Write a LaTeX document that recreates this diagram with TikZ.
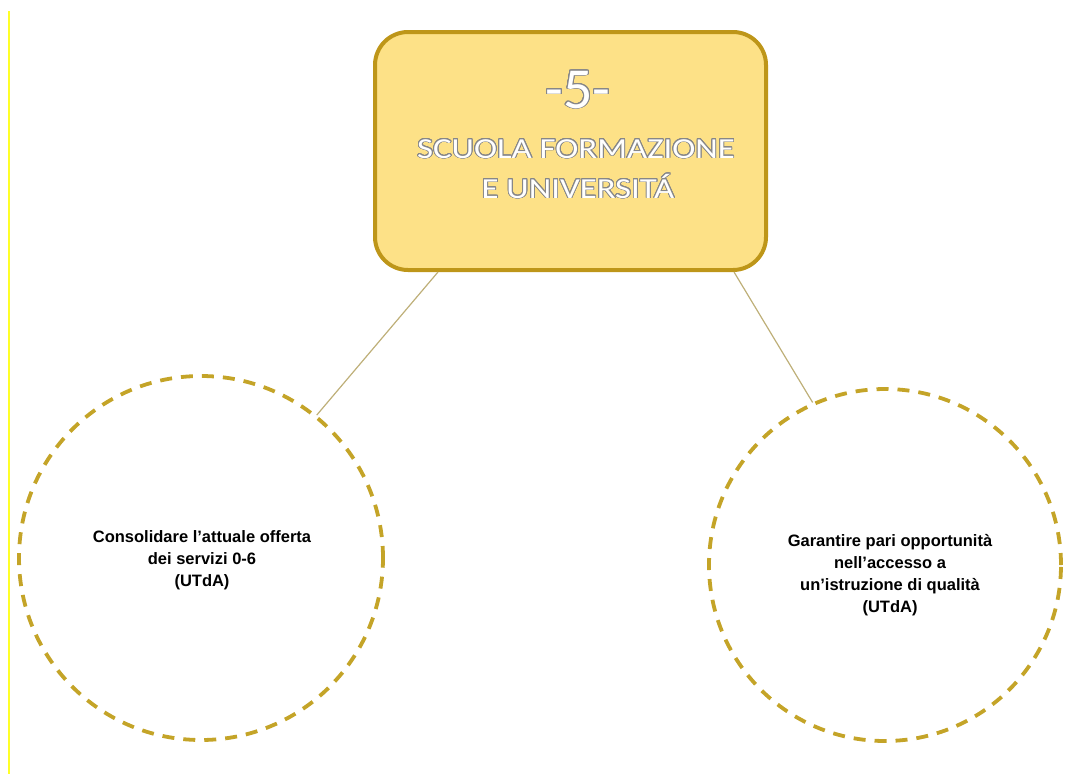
\documentclass[tikz,border=0pt]{standalone}
\usepackage{fontspec}
\setmainfont{Liberation Sans}
\newfontfamily\numfont{Carlito}
\newfontfamily\titlefont[FakeStretch=1.2]{Carlito}
\usepackage[copies]{contour}
\contourlength{0.9pt}
\contournumber{24}
\usetikzlibrary{calc}
\definecolor{boxfill}{RGB}{253,225,135}
\definecolor{boxline}{RGB}{190,150,25}
\definecolor{dashcol}{RGB}{196,164,40}
\definecolor{conncol}{RGB}{190,175,120}
\definecolor{edgeyellow}{RGB}{255,255,40}
\definecolor{outlinegray}{RGB}{135,135,135}
\tikzset{
  titlebox/.style={draw=boxline, fill=boxfill, line width=4pt, rounded corners=33pt,
    minimum width=391pt, minimum height=238pt, inner sep=0pt},
  dcircle/.style={circle, draw=dashcol, line width=3.8pt, dash pattern=on 12pt off 9pt,
    minimum size=364pt, inner sep=0pt},
  conn/.style={draw=conncol, line width=1.2pt},
  titletxt/.style={anchor=base, inner sep=0pt, text=white},
  bodytxt/.style={align=center, inner sep=0pt, font=\fontsize{16.5}{22}\selectfont\bfseries}
}
\begin{document}
\begin{tikzpicture}[x=1pt,y=-1pt]
\useasboundingbox (0,0) rectangle (1067,774);
\draw[edgeyellow, line width=1.6pt] (9,11) -- (9,774);
\node[titlebox] (title) at (570.5,151) {};
\node[titletxt] (t1) at (578,108) {\numfont\fontsize{58}{58}\selectfont\contour{outlinegray}{-5-}};
\node[titletxt] (t2) at (576,158) {\titlefont\fontsize{29}{29}\selectfont\contour{outlinegray}{SCUOLA FORMAZIONE}};
\node[titletxt] (t3) at (578,198) {\titlefont\fontsize{29}{29}\selectfont\contour{outlinegray}{E UNIVERSITÁ}};
\node[dcircle] (lc) at (201,558) {};
\node[dcircle, minimum size=352pt] (rc) at (885,565) {};
\node[bodytxt] (lt) at (202,560) {Consolidare l’attuale offerta\\dei servizi 0-6\\(UTdA)};
\node[bodytxt] (rt) at (890,575) {Garantire pari opportunità\\nell’accesso a\\un’istruzione di qualità\\(UTdA)};
\draw[conn] ($(title.south west)+(65,0)$) -- (lc.51);
\draw[conn] ($(title.south east)+(-34,0)$) -- (rc.114);
\end{tikzpicture}
\end{document}
